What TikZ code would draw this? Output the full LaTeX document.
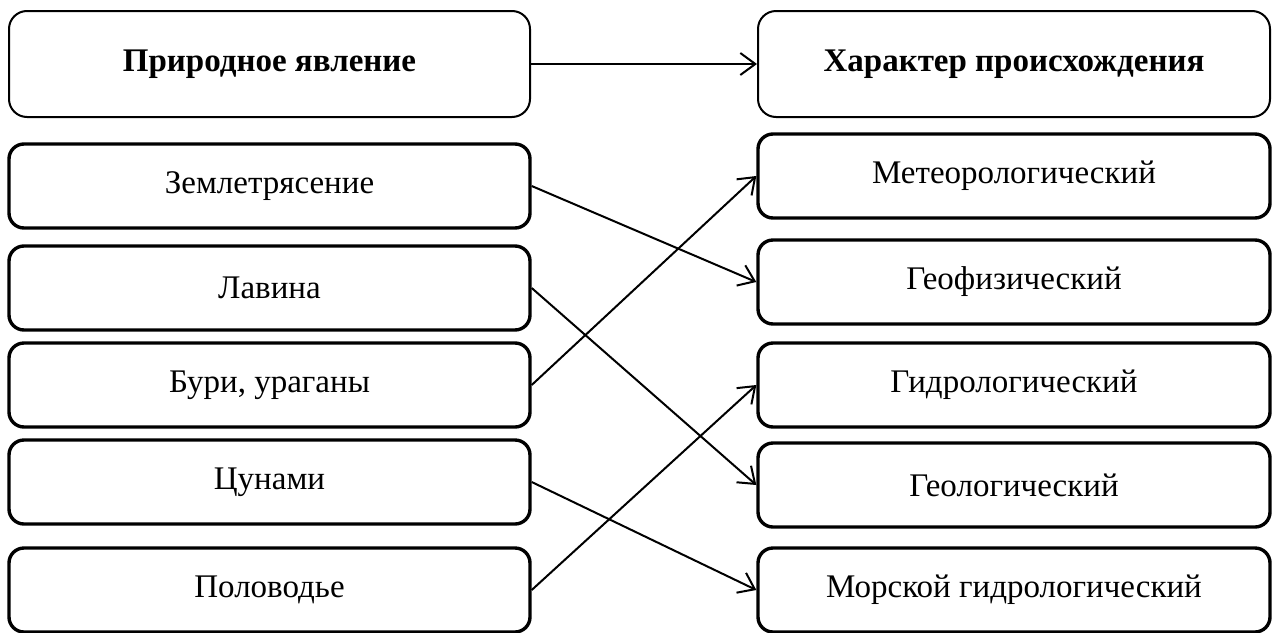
\documentclass[tikz,border=0pt]{standalone}
\usepackage{fontspec}
\setmainfont{Liberation Serif}
\usepackage{tikz}
\usetikzlibrary{arrows.meta}

\begin{document}
\begin{tikzpicture}[x=0.5pt, y=-0.5pt,
    headbox/.style={draw, line width=1pt, rounded corners=9pt, minimum height=53pt,
        font=\fontsize{16.5}{20}\selectfont\bfseries},
    itembox/.style={draw, line width=1.7pt, rounded corners=7.5pt, minimum height=42pt,
        font=\fontsize{16.5}{20}\selectfont},
    leftbox/.style={minimum width=260.5pt},
    rightbox/.style={minimum width=256pt},
    link/.style={line width=1pt, -{Straight Barb[length=7.5pt, width=11pt, line width=1pt]}}]
    \useasboundingbox (0,0) rectangle (1273,632);

    % Headers
    \node[headbox, leftbox] (event) at (269.5,64) {Природное явление};
    \node[headbox, rightbox] (origin) at (1014,64) {Характер происхождения};
    \draw[link, line width=1.4pt] (event) -- (origin);

    % Natural phenomena
    \node[itembox, leftbox] (quake) at (269.5,186) {Землетрясение};
    \node[itembox, leftbox] (avalanche) at (269.5,288) {Лавина};
    \node[itembox, leftbox] (storm) at (269.5,385) {Бури, ураганы};
    \node[itembox, leftbox] (tsunami) at (269.5,482) {Цунами};
    \node[itembox, leftbox] (flood) at (269.5,590) {Половодье};

    % Kinds of origin
    \node[itembox, rightbox] (meteo) at (1014,176) {Метеорологический};
    \node[itembox, rightbox] (geophys) at (1014,282) {Геофизический};
    \node[itembox, rightbox] (hydro) at (1014,385) {Гидрологический};
    \node[itembox, rightbox] (geolog) at (1014,485) {Геологический};
    \node[itembox, rightbox] (marine) at (1014,590) {Морской гидрологический};

    % Links
    \draw[link] (quake.east) -- (geophys.west);
    \draw[link] (avalanche.east) -- (geolog.west);
    \draw[link] (storm.east) -- (meteo.west);
    \draw[link] (tsunami.east) -- (marine.west);
    \draw[link] (flood.east) -- (hydro.west);
\end{tikzpicture}
\end{document}
